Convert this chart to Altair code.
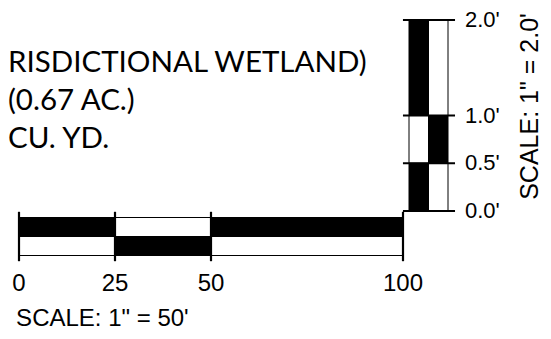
import altair as alt
import pandas as pd

# ---- data ----
h_edges = [0, 25, 50, 100]
h_top = ["black", "white", "black"]
h_bottom = ["white", "black", "white"]
h_labels = ["0", "25", "50", "100"]

v_edges = [0.0, 0.5, 1.0, 2.0]
v_left = ["black", "white", "black"]
v_right = ["white", "black", "white"]
v_labels = ["0.0'", "0.5'", "1.0'", "2.0'"]

notes = ["RISDICTIONAL WETLAND)", "(0.67 AC.)", "CU. YD."]
h_title = 'SCALE: 1" = 50\''
v_title = 'SCALE: 1" = 2.0\''

# ---- tables ----
h_cells = pd.DataFrame(
    [{"x": h_edges[i], "x2": h_edges[i + 1], "y": 1, "y2": 2, "fill": h_top[i]} for i in range(3)]
    + [{"x": h_edges[i], "x2": h_edges[i + 1], "y": 0, "y2": 1, "fill": h_bottom[i]} for i in range(3)]
)
h_ticks = pd.DataFrame({"x": h_edges, "label": h_labels})

v_cells = pd.DataFrame(
    [{"y": v_edges[i], "y2": v_edges[i + 1], "x": 0, "x2": 1, "fill": v_left[i]} for i in range(3)]
    + [{"y": v_edges[i], "y2": v_edges[i + 1], "x": 1, "x2": 2, "fill": v_right[i]} for i in range(3)]
)
v_ticks = pd.DataFrame({"y": v_edges, "label": v_labels})

notes_df = pd.DataFrame({"line": list(range(len(notes))), "t": notes})

# ---- scales ----
hx = alt.Scale(domain=[0, 100], range=[11, 395], nice=False, zero=False)
hy = alt.Scale(domain=[0, 2], range=[247.5, 209.5], nice=False, zero=False)
vx = alt.Scale(domain=[0, 2], range=[401, 440], nice=False, zero=False)
vy = alt.Scale(domain=[0, 2], range=[203, 12], nice=False, zero=False)
ny = alt.Scale(domain=[0, 2], range=[64, 140], nice=False, zero=False)

FONT = "Liberation Sans"

h_rects = alt.Chart(h_cells).mark_rect(stroke="black", strokeWidth=1).encode(
    x=alt.X("x:Q", scale=hx, axis=None), x2="x2:Q",
    y=alt.Y("y:Q", scale=hy, axis=None), y2="y2:Q",
    fill=alt.Fill("fill:N", scale=None),
)
h_rules = alt.Chart(h_ticks).mark_rule(color="black", strokeWidth=2.2).encode(
    x=alt.X("x:Q", scale=hx, axis=None),
    y=alt.YDatum(-0.3, scale=hy, axis=None), y2=alt.Y2Datum(2.3),
)
h_text = alt.Chart(h_ticks).mark_text(
    align="center", baseline="middle", font=FONT, fontSize=24, color="black"
).encode(
    x=alt.X("x:Q", scale=hx, axis=None),
    y=alt.YDatum(-1.5, scale=hy, axis=None),
    text="label:N",
)
h_ttl = alt.Chart(pd.DataFrame({"t": [h_title]})).mark_text(
    align="left", baseline="middle", font=FONT, fontSize=24, color="black"
).encode(
    x=alt.XDatum(-0.75, scale=hx, axis=None),
    y=alt.YDatum(-3.32, scale=hy, axis=None),
    text="t:N",
)

v_rects = alt.Chart(v_cells).mark_rect(stroke="black", strokeWidth=1).encode(
    x=alt.X("x:Q", scale=vx, axis=None), x2="x2:Q",
    y=alt.Y("y:Q", scale=vy, axis=None), y2="y2:Q",
    fill=alt.Fill("fill:N", scale=None),
)
v_rules = alt.Chart(v_ticks).mark_rule(color="black", strokeWidth=2.2).encode(
    y=alt.Y("y:Q", scale=vy, axis=None),
    x=alt.XDatum(-0.31, scale=vx, axis=None), x2=alt.X2Datum(2.36),
)
v_text = alt.Chart(v_ticks).mark_text(
    align="left", baseline="middle", font=FONT, fontSize=22, color="black"
).encode(
    y=alt.Y("y:Q", scale=vy, axis=None),
    x=alt.XDatum(2.87, scale=vx, axis=None),
    text="label:N",
)
v_ttl = alt.Chart(pd.DataFrame({"t": [v_title]})).mark_text(
    align="center", baseline="middle", angle=270, font=FONT, fontSize=25, color="black"
).encode(
    x=alt.XDatum(6.23, scale=vx, axis=None),
    y=alt.YDatum(1.094, scale=vy, axis=None),
    text="t:N",
)

note_text = alt.Chart(notes_df).mark_text(
    align="left", baseline="alphabetic", font="Lato", fontSize=29.5, color="black"
).encode(
    x=alt.XDatum(-2.865, scale=hx, axis=None),
    y=alt.Y("line:Q", scale=ny, axis=None),
    text="t:N",
)

chart = alt.layer(
    h_rects, h_rules, h_text, h_ttl, v_rects, v_rules, v_text, v_ttl, note_text
).resolve_scale(x="independent", y="independent").properties(
    width=535, height=323, padding=0, autosize=alt.AutoSizeParams(type="none")
).configure_view(stroke=None)

chart.save("out.html", embed_options={"renderer": "svg", "actions": False})
